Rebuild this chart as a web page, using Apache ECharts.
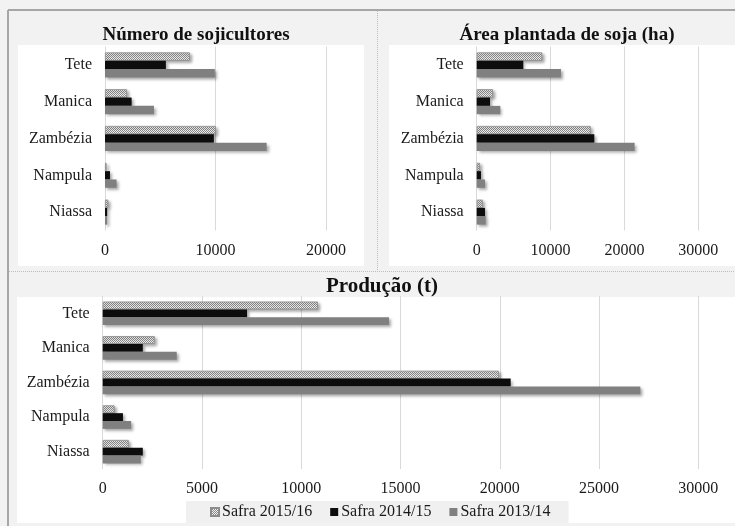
<!DOCTYPE html>
<html>
<head>
<meta charset="utf-8">
<script src="https://cdn.jsdelivr.net/npm/echarts@6/dist/echarts.min.js"></script>
<style>
html,body{margin:0;padding:0;background:#f2f2f2;}
#c{width:735px;height:526px;}
</style>
</head>
<body>
<div id="c"></div>
<script>
// Categories (bottom to top)
const categories = ['Niassa', 'Nampula', 'Zambézia', 'Manica', 'Tete'];
const seriesNames = ['Safra 2015/16', 'Safra 2014/15', 'Safra 2013/14'];

// Número de sojicultores
const soj1516 = [300, 150, 10030, 1990, 7680];
const soj1415 = [200, 450, 9850, 2410, 5510];
const soj1314 = [200, 1050, 14630, 4430, 9940];

// Área plantada de soja (ha)
const area1516 = [810, 450, 15430, 2210, 8880];
const area1415 = [1120, 580, 15920, 1800, 6310];
const area1314 = [1220, 1120, 21380, 3200, 11410];

// Produção (t)
const prod1516 = [1310, 600, 19960, 2620, 10840];
const prod1415 = [2020, 1020, 20550, 2020, 7270];
const prod1314 = [1920, 1430, 27080, 3730, 14420];

// Axis ticks
const ticksA = [0, 10000, 20000];
const ticksB = [0, 10000, 20000, 30000];
const ticksC = [0, 5000, 10000, 15000, 20000, 25000, 30000];

const titles = ['Número de sojicultores', 'Área plantada de soja (ha)', 'Produção (t)'];

const FONT = "'Liberation Serif', 'Times New Roman', serif";

// hatch pattern
const cv = document.createElement('canvas');
cv.width = 2; cv.height = 2;
const cx = cv.getContext('2d');
cx.fillStyle = '#f0f0f0'; cx.fillRect(0, 0, 2, 2);
cx.fillStyle = '#8a8a8a'; cx.fillRect(0, 0, 1, 1); cx.fillRect(1, 1, 1, 1);
const hatch = { image: cv, repeat: 'repeat' };

const shadow = { shadowColor: 'rgba(0,0,0,0.35)', shadowBlur: 3, shadowOffsetX: 2, shadowOffsetY: 2 };
const styles = {
  'Safra 2015/16': Object.assign({ color: hatch, borderColor: '#8c8c8c', borderWidth: 0.8 }, shadow),
  'Safra 2014/15': Object.assign({ color: '#0d0d0d' }, shadow),
  'Safra 2013/14': Object.assign({ color: '#808080' }, shadow)
};

const grids = [
  { left: 105, right: 409, top: 46.5, height: 184 },
  { left: 476.7, right: 36.7, top: 46.5, height: 184 },
  { left: 102.7, right: 36.7, top: 296, height: 173 }
];
const maxes = [ticksA[ticksA.length - 1], ticksB[ticksB.length - 1], ticksC[ticksC.length - 1]];
const intervals = [ticksA[1] - ticksA[0], ticksB[1] - ticksB[0], ticksC[1] - ticksC[0]];

const data = [
  { 'Safra 2015/16': soj1516, 'Safra 2014/15': soj1415, 'Safra 2013/14': soj1314 },
  { 'Safra 2015/16': area1516, 'Safra 2014/15': area1415, 'Safra 2013/14': area1314 },
  { 'Safra 2015/16': prod1516, 'Safra 2014/15': prod1415, 'Safra 2013/14': prod1314 }
];
const order = ['Safra 2015/16', 'Safra 2014/15', 'Safra 2013/14'];

const xAxis = [], yAxis = [], series = [];
for (let i = 0; i < 3; i++) {
  xAxis.push({
    type: 'value', gridIndex: i, min: 0, max: maxes[i], interval: intervals[i],
    axisLine: { show: false }, axisTick: { show: false },
    splitLine: { lineStyle: { color: '#d9d9d9', width: 1 } },
    axisLabel: { color: '#1a1a1a', fontFamily: FONT, fontSize: 16, margin: 12, formatter: v => String(v) }
  });
  yAxis.push({
    type: 'category', gridIndex: i, data: categories,
    axisLine: { show: false }, axisTick: { show: false },
    axisLabel: { color: '#1a1a1a', fontFamily: FONT, fontSize: 16, margin: 13 }
  });
  for (let k = 0; k < 3; k++) {
    series.push({
      type: 'bar', name: order[k], xAxisIndex: i, yAxisIndex: i,
      data: data[i][order[k]], barGap: '0%', barCategoryGap: '32%',
      itemStyle: styles[order[k]], emphasis: { disabled: true }
    });
  }
}

const chart = echarts.init(document.getElementById('c'), null, { renderer: 'canvas' });
chart.setOption({
  backgroundColor: '#f2f2f2',
  animation: false,
  title: [
    { text: titles[0], left: 191, top: 21, textAlign: 'center', textStyle: { fontFamily: FONT, fontSize: 19, fontWeight: 'bold', color: '#111' } },
    { text: titles[1], left: 562, top: 21, textAlign: 'center', textStyle: { fontFamily: FONT, fontSize: 19, fontWeight: 'bold', color: '#111' } },
    { text: titles[2], left: 377, top: 271, textAlign: 'center', textStyle: { fontFamily: FONT, fontSize: 21, fontWeight: 'bold', color: '#111' } }
  ],
  graphic: { elements: [
    { type: 'rect', z: -10, silent: true, shape: { x: 18, y: 45, width: 346, height: 221 }, style: { fill: '#ffffff' } },
    { type: 'rect', z: -10, silent: true, shape: { x: 389, y: 45, width: 346, height: 221 }, style: { fill: '#ffffff' } },
    { type: 'rect', z: -10, silent: true, shape: { x: 17, y: 297, width: 718, height: 226 }, style: { fill: '#ffffff' } },
    { type: 'line', z: -5, silent: true, shape: { x1: 8, y1: 10, x2: 735, y2: 10 }, style: { stroke: '#a6a6a6', lineWidth: 2 } },
    { type: 'line', z: -5, silent: true, shape: { x1: 8, y1: 10, x2: 8, y2: 526 }, style: { stroke: '#a6a6a6', lineWidth: 2 } },
    { type: 'line', z: -5, silent: true, shape: { x1: 377.5, y1: 11, x2: 377.5, y2: 272 }, style: { stroke: '#bdbdbd', lineWidth: 1, lineDash: [1, 1] } },
    { type: 'line', z: -5, silent: true, shape: { x1: 9, y1: 271.5, x2: 735, y2: 271.5 }, style: { stroke: '#bdbdbd', lineWidth: 1, lineDash: [1, 1] } }
  ] },
  legend: {
    data: seriesNames, left: 186, top: 501,
    backgroundColor: '#f0f0f0', padding: [3, 18, 3, 24],
    icon: 'rect', itemWidth: 8, itemHeight: 8, itemGap: 18,
    textStyle: { fontFamily: FONT, fontSize: 16, color: '#1a1a1a', padding: [0, 0, 0, -2] },
    selectedMode: false
  },
  grid: grids,
  xAxis: xAxis,
  yAxis: yAxis,
  series: series
});
</script>
</body>
</html>
